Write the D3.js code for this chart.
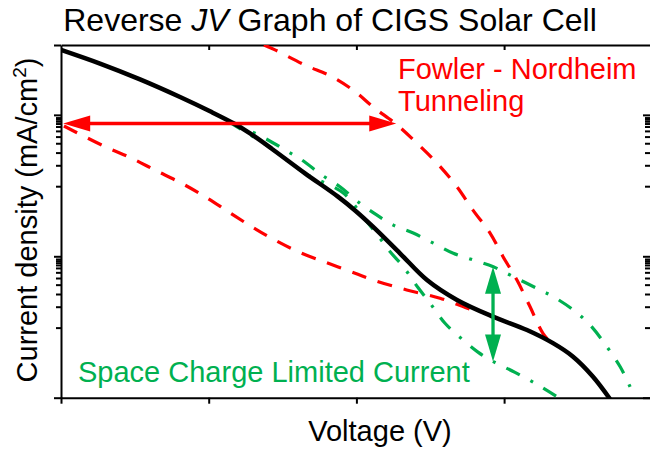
<!DOCTYPE html>
<html><head><meta charset="utf-8">
<script src="https://cdn.jsdelivr.net/npm/d3@7"></script>
<style>
html,body{margin:0;padding:0;background:#fff;}
svg{display:block;font-family:"Liberation Sans",Arial,sans-serif;}
</style></head>
<body>
<script>
// ---- data (Voltage in arbitrary V units, current density in mA/cm^2, log scale) ----
const xTicks = [0, 1, 2, 3];
const yDecades = [0.01, 0.1, 1];
const yMinorFactors = [0.957, 0.931, 0.901, 0.868, 0.827, 0.770, 0.702, 0.630, 0.541, 0.440, 0.313];

const measV = [0, 0.264, 0.535, 0.806, 1.009, 1.171, 1.280, 1.429, 1.652, 1.875, 1.991, 2.112, 2.295, 2.478, 2.681, 2.925, 3.155, 3.331, 3.467, 3.602, 3.717];
const measJ = [2.877, 2.302, 1.780, 1.336, 1.059, 0.868, 0.739, 0.574, 0.386, 0.264, 0.211, 0.162, 0.105, 0.0679, 0.0491, 0.0374, 0.0301, 0.0243, 0.0195, 0.01408, 0.0098];

const fnHighV = [1.374, 1.449, 1.652, 1.835, 1.991, 2.112, 2.275, 2.410, 2.546, 2.681, 2.789, 2.905, 2.993, 3.087, 3.175, 3.263, 3.324];
const fnHighJ = [3.12, 2.88, 2.25, 1.86, 1.46, 1.14, 0.849, 0.630, 0.455, 0.310, 0.212, 0.146, 0.0993, 0.0679, 0.0441, 0.0285, 0.0240];

const fnLowV = [0.020, 0.095, 0.298, 0.479, 0.636, 0.817, 0.975, 1.133, 1.291, 1.449, 1.630, 1.810, 1.991, 2.115, 2.341, 2.566, 2.722, 2.775];
const fnLowJ = [0.834, 0.760, 0.596, 0.493, 0.407, 0.328, 0.264, 0.2065, 0.162, 0.130, 0.105, 0.0892, 0.0759, 0.0679, 0.0578, 0.0505, 0.0441, 0.0420];

const sclcHighV = [1.131, 1.359, 1.517, 1.630, 1.765, 1.889, 2.024, 2.137, 2.250, 2.385, 2.521, 2.656, 2.791, 2.927, 3.062, 3.221, 3.333, 3.469, 3.582, 3.695, 3.785, 3.852, 3.886];
const sclcHighJ = [0.900, 0.702, 0.565, 0.480, 0.376, 0.310, 0.237, 0.196, 0.166, 0.146, 0.124, 0.105, 0.0942, 0.0843, 0.0718, 0.0594, 0.0518, 0.0417, 0.0327, 0.0230, 0.0166, 0.0120, 0.0099];

const sclcLowV = [1.131, 1.429, 1.652, 1.909, 2.070, 2.160, 2.227, 2.318, 2.417, 2.498, 2.600, 2.722, 2.823, 2.927, 3.074, 3.229, 3.356];
const sclcLowJ = [0.900, 0.574, 0.386, 0.281, 0.176, 0.134, 0.108, 0.0843, 0.0601, 0.0468, 0.0336, 0.0256, 0.0210, 0.0180, 0.0151, 0.0123, 0.0102];

const fnArrowV = [0.015, 2.27];
const fnArrowJ = 0.869;
const sclcArrowV = 2.925;
const sclcArrowJ = [0.0843, 0.0180];

const RED = "#ff0000", GREEN = "#00b050";

// ---- layout ----
const W = 650, H = 451;
const x = d3.scaleLinear().domain([0, 4]).range([61, 651.8]);
const y = d3.scaleLog().domain([0.01, Math.pow(10, 0.494)]).range([397.7, 45]);

const svg = d3.select("body").append("svg").attr("width", W).attr("height", H);

svg.append("clipPath").attr("id", "plot").append("rect")
  .attr("x", 61).attr("y", 45).attr("width", 590).attr("height", 353);

const minorVals = [];
yDecades.slice(1).forEach(d => yMinorFactors.forEach(f => minorVals.push(d * f)));
const yTop = y.domain()[1];

function styleAxis(g) {
  g.selectAll("path.domain").attr("stroke", "#000").attr("stroke-width", 2);
  g.selectAll(".tick line").attr("stroke", "#000").attr("stroke-width", 2);
  g.selectAll(".tick text").remove();
}

// left axis
svg.append("g").attr("transform", "translate(61,0)")
  .call(d3.axisLeft(y).tickValues(yDecades.concat([yTop])).tickSize(7).tickSizeOuter(0).tickFormat(""))
  .call(styleAxis);
svg.append("g").attr("transform", "translate(61,0)")
  .call(d3.axisLeft(y).tickValues(minorVals).tickSize(5).tickSizeOuter(0).tickFormat(""))
  .call(g => g.select("path.domain").remove()).call(styleAxis);
// right axis (inward ticks)
svg.append("g").attr("transform", "translate(651,0)")
  .call(d3.axisLeft(y).tickValues(yDecades).tickSize(8).tickSizeOuter(0).tickFormat(""))
  .call(styleAxis);
svg.append("g").attr("transform", "translate(651,0)")
  .call(d3.axisLeft(y).tickValues(minorVals).tickSize(6).tickSizeOuter(0).tickFormat(""))
  .call(g => g.select("path.domain").remove()).call(styleAxis);
// bottom axis
svg.append("g").attr("transform", "translate(0,397.7)")
  .call(d3.axisBottom(x).tickValues(xTicks).tickSize(6).tickSizeOuter(0).tickFormat(""))
  .call(styleAxis);
// top axis (inward ticks)
svg.append("g").attr("transform", "translate(0,45)")
  .call(d3.axisTop(x).tickValues(xTicks.slice(1)).tickSize(-5).tickSizeOuter(0).tickFormat(""))
  .call(styleAxis);

// curves
const line = d3.line().x(d => x(d[0])).y(d => y(d[1])).curve(d3.curveCatmullRom.alpha(0.5));
const pts = (vs, js) => vs.map((v, i) => [v, js[i]]);
const plot = svg.append("g").attr("clip-path", "url(#plot)");

plot.append("path").datum(pts(fnHighV, fnHighJ)).attr("d", line)
  .attr("fill", "none").attr("stroke", RED).attr("stroke-width", 3.2).attr("stroke-dasharray", "15,12");
plot.append("path").datum(pts(fnLowV, fnLowJ)).attr("d", line)
  .attr("fill", "none").attr("stroke", RED).attr("stroke-width", 3.2).attr("stroke-dasharray", "15,12");
plot.append("path").datum(pts(sclcHighV, sclcHighJ)).attr("d", line)
  .attr("fill", "none").attr("stroke", GREEN).attr("stroke-width", 3.2).attr("stroke-dasharray", "15,12,3,12");
plot.append("path").datum(pts(sclcLowV, sclcLowJ)).attr("d", line)
  .attr("fill", "none").attr("stroke", GREEN).attr("stroke-width", 3.2).attr("stroke-dasharray", "15,12,3,12");
plot.append("path").datum(pts(measV, measJ)).attr("d", line)
  .attr("fill", "none").attr("stroke", "#000").attr("stroke-width", 4.5);

// red horizontal double arrow
{
  const ay = y(fnArrowJ), x1 = x(fnArrowV[0]), x2 = x(fnArrowV[1]);
  const L = 27, Hh = 8;
  svg.append("line").attr("x1", x1 + L - 2).attr("x2", x2 - L + 2).attr("y1", ay).attr("y2", ay)
    .attr("stroke", RED).attr("stroke-width", 3.3);
  svg.append("path").attr("fill", RED)
    .attr("d", `M${x1},${ay}L${x1 + L},${ay - Hh}L${x1 + L},${ay + Hh}Z`);
  svg.append("path").attr("fill", RED)
    .attr("d", `M${x2},${ay}L${x2 - L},${ay - Hh}L${x2 - L},${ay + Hh}Z`);
}
// green vertical double arrow
{
  const ax = x(sclcArrowV), y1 = y(sclcArrowJ[0]), y2 = y(sclcArrowJ[1]);
  const L = 27, Hw = 8;
  svg.append("line").attr("x1", ax).attr("x2", ax).attr("y1", y1 + L - 2).attr("y2", y2 - L + 2)
    .attr("stroke", GREEN).attr("stroke-width", 3.3);
  svg.append("path").attr("fill", GREEN)
    .attr("d", `M${ax},${y1}L${ax - Hw},${y1 + L}L${ax + Hw},${y1 + L}Z`);
  svg.append("path").attr("fill", GREEN)
    .attr("d", `M${ax},${y2}L${ax - Hw},${y2 - L}L${ax + Hw},${y2 - L}Z`);
}

// texts
const title = svg.append("text").attr("x", 330).attr("y", 31).attr("text-anchor", "middle")
  .attr("font-size", 32).attr("fill", "#000");
title.append("tspan").text("Reverse ");
title.append("tspan").attr("font-style", "italic").text("JV");
title.append("tspan").text(" Graph of CIGS Solar Cell");

svg.append("text").attr("x", 380).attr("y", 441).attr("text-anchor", "middle")
  .attr("font-size", 29).attr("fill", "#000").text("Voltage (V)");

const yl = svg.append("text").attr("transform", "translate(37,220) rotate(-90)")
  .attr("text-anchor", "middle").attr("font-size", 29).attr("fill", "#000");
yl.append("tspan").text("Current density (mA/cm");
yl.append("tspan").attr("font-size", 19).attr("dy", -11).text("2");
yl.append("tspan").attr("dy", 11).text(")");

svg.append("text").attr("x", 398).attr("y", 79).attr("font-size", 29).attr("fill", RED).text("Fowler - Nordheim");
svg.append("text").attr("x", 398).attr("y", 111).attr("font-size", 29).attr("fill", RED).text("Tunneling");
svg.append("text").attr("x", 78).attr("y", 382).attr("font-size", 29).attr("fill", GREEN).text("Space Charge Limited Current");
</script>
</body></html>
